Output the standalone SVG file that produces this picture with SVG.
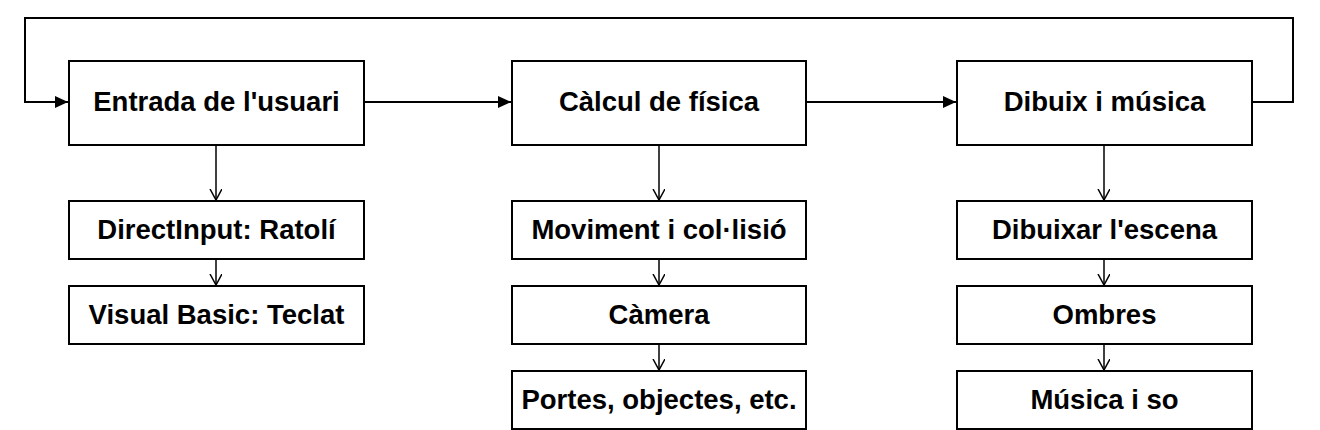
<svg xmlns="http://www.w3.org/2000/svg" width="1320" height="430" viewBox="0 0 1320 430">
<style>
.box{fill:#fff;stroke:#000;stroke-width:2}
.t{font-family:"Liberation Sans",Arial,sans-serif;font-weight:bold;font-size:27.5px;fill:#000;text-anchor:middle;dominant-baseline:central}
.c{fill:none;stroke:#000;stroke-width:2}
.cv{fill:none;stroke:#000;stroke-width:1.5}
</style>
<defs>
<marker id="fa" markerWidth="14" markerHeight="12" refX="13" refY="6" orient="auto" markerUnits="userSpaceOnUse">
<path d="M0,0 L13,6 L0,12 Z" fill="#000"/>
</marker>
<marker id="oa" markerWidth="12" markerHeight="14" refX="11" refY="6" orient="auto" markerUnits="userSpaceOnUse">
<path d="M0,0 L11,6 L0,12" fill="none" stroke="#000" stroke-width="1.5"/>
</marker>
</defs>
<rect width="1320" height="430" fill="#fff"/>
<g id="connectors">
<path class="c" d="M364,102 H511" marker-end="url(#fa)"/>
<path class="c" d="M806,102 H956" marker-end="url(#fa)"/>
<path class="c" d="M1252,102 H1293 V18 H25 V102 H68" marker-end="url(#fa)"/>
<path class="cv" d="M216,145 V200" marker-end="url(#oa)"/>
<path class="cv" d="M216,259 V285" marker-end="url(#oa)"/>
<path class="cv" d="M659,145 V200" marker-end="url(#oa)"/>
<path class="cv" d="M659,259 V285" marker-end="url(#oa)"/>
<path class="cv" d="M659,344 V370" marker-end="url(#oa)"/>
<path class="cv" d="M1104,145 V200" marker-end="url(#oa)"/>
<path class="cv" d="M1104,259 V285" marker-end="url(#oa)"/>
<path class="cv" d="M1104,344 V370" marker-end="url(#oa)"/>
</g>
<g id="n1"><rect class="box" x="69" y="61" width="295" height="84"/><text class="t" x="216.5" y="101">Entrada de l'usuari</text></g>
<g id="n2"><rect class="box" x="512" y="61" width="294" height="84"/><text class="t" x="659" y="101">Càlcul de física</text></g>
<g id="n3"><rect class="box" x="957" y="61" width="295" height="84"/><text class="t" x="1104.5" y="101">Dibuix i música</text></g>
<g id="n4"><rect class="box" x="69" y="201" width="295" height="58"/><text class="t" x="216.5" y="229">DirectInput: Ratolí</text></g>
<g id="n5"><rect class="box" x="69" y="286" width="295" height="58"/><text class="t" x="216.5" y="314">Visual Basic: Teclat</text></g>
<g id="n6"><rect class="box" x="512" y="201" width="294" height="58"/><text class="t" x="659" y="229">Moviment i col·lisió</text></g>
<g id="n7"><rect class="box" x="512" y="286" width="294" height="58"/><text class="t" x="659" y="314">Càmera</text></g>
<g id="n8"><rect class="box" x="512" y="371" width="294" height="58"/><text class="t" x="659" y="399">Portes, objectes, etc.</text></g>
<g id="n9"><rect class="box" x="957" y="201" width="295" height="58"/><text class="t" x="1104.5" y="229">Dibuixar l'escena</text></g>
<g id="n10"><rect class="box" x="957" y="286" width="295" height="58"/><text class="t" x="1104.5" y="314">Ombres</text></g>
<g id="n11"><rect class="box" x="957" y="371" width="295" height="58"/><text class="t" x="1104.5" y="399">Música i so</text></g>
</svg>
